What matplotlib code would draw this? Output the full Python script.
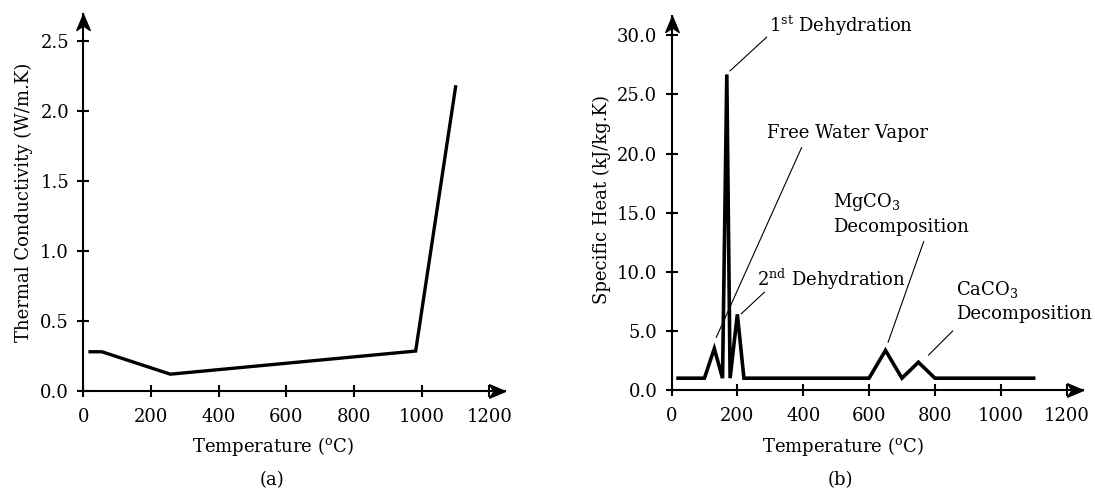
import matplotlib
matplotlib.use("Agg")
import matplotlib.pyplot as plt
import numpy as np

# ---- data ----
temp_a = [20, 55, 257, 982, 1100]
cond_a = [0.28, 0.28, 0.12, 0.285, 2.17]

temp_b = [20, 100, 130, 155, 168, 178, 200, 220, 600, 650, 700, 750, 800, 1100]
cp_b = [1.0, 1.0, 3.5, 1.0, 26.7, 1.0, 6.4, 1.0, 1.0, 3.35, 1.0, 2.35, 1.0, 1.0]

xticks = [0, 200, 400, 600, 800, 1000, 1200]
yticks_a = [0.0, 0.5, 1.0, 1.5, 2.0, 2.5]
yticks_b = [0.0, 5.0, 10.0, 15.0, 20.0, 25.0, 30.0]

plt.rcParams['font.family'] = ['DejaVu Serif']
plt.rcParams['mathtext.fontset'] = 'dejavuserif'
FS = 13

W, H = 1095, 490
fig = plt.figure(figsize=(W / 100, H / 100), dpi=100)


def px_rect(l, r, t, b):
    return [l / W, 1 - b / H, (r - l) / W, (b - t) / H]


ax1 = fig.add_axes(px_rect(83.3, 505, 14, 391))
ax2 = fig.add_axes(px_rect(671.5, 1082.7, 16, 390))

arrow_x = [(0, 0), (-1, 0.42), (-0.72, 0), (-1, -0.42), (0, 0)]
arrow_y = [(0, 0), (0.42, -1), (0, -0.72), (-0.42, -1), (0, 0)]


def style(ax, xmax, ymax, yticks):
    ax.set_xlim(0, xmax)
    ax.set_ylim(0, ymax)
    for s in ['top', 'right']:
        ax.spines[s].set_visible(False)
    for s in ['left', 'bottom']:
        ax.spines[s].set_linewidth(1.5)
    ax.set_xticks(xticks)
    ax.set_yticks(yticks)
    ax.set_yticklabels([f"{v:.1f}" for v in yticks])
    ax.tick_params(direction='inout', length=8.5, width=1.5, labelsize=FS)
    ax.tick_params(axis='x', pad=8)
    ax.tick_params(axis='y', pad=6)
    ax.plot([1], [0], marker=arrow_x, markersize=23, color='black',
            transform=ax.transAxes, clip_on=False, zorder=5)
    ax.plot([0], [1], marker=arrow_y, markersize=23, color='black',
            transform=ax.transAxes, clip_on=False, zorder=5)


style(ax1, 1246, 2.69, yticks_a)
style(ax2, 1249, 31.64, yticks_b)

ax1.plot(temp_a, cond_a, color='black', lw=2.4, solid_joinstyle='miter')
ax2.plot(temp_b, cp_b, color='black', lw=2.6, solid_joinstyle='miter')

# annotations
lw_l = 0.8
ax2.plot([178, 289], [27.0, 29.85], color='black', lw=lw_l)
ax2.plot([395, 136], [20.5, 4.45], color='black', lw=lw_l)
ax2.plot([282, 212], [8.27, 6.45], color='black', lw=lw_l)
ax2.plot([766, 658], [12.55, 4.05], color='black', lw=lw_l)
ax2.plot([854, 781], [4.99, 2.96], color='black', lw=lw_l)

ax2.text(295, 30.3, r"1$^{\mathrm{st}}$ Dehydration", fontsize=FS, va='baseline', ha='left')
ax2.text(290, 21.3, "Free Water Vapor", fontsize=FS, va='baseline', ha='left')
ax2.text(259, 8.82, r"2$^{\mathrm{nd}}$ Dehydration", fontsize=FS, va='baseline', ha='left')
ax2.text(490, 15.5, r"MgCO$_3$", fontsize=FS, va='baseline', ha='left')
ax2.text(490, 13.39, "Decomposition", fontsize=FS, va='baseline', ha='left')
ax2.text(865, 8.04, r"CaCO$_3$", fontsize=FS, va='baseline', ha='left')
ax2.text(865, 5.98, "Decomposition", fontsize=FS, va='baseline', ha='left')

# axis labels


def ftext(x, y, s, **kw):
    fig.text(x / W, 1 - y / H, s, fontsize=FS, ha='center', va='center', **kw)


ftext(24, 202, "Thermal Conductivity (W/m.K)", rotation=90)
ftext(602.3, 199, "Specific Heat (kJ/kg.K)", rotation=90)
ftext(272.5, 446.7, r"Temperature ($^{\mathrm{o}}$C)")
ftext(842.5, 446.7, r"Temperature ($^{\mathrm{o}}$C)")
ftext(271.7, 480, "(a)")
ftext(840.7, 480, "(b)")

fig.savefig("out.png", dpi=100)
